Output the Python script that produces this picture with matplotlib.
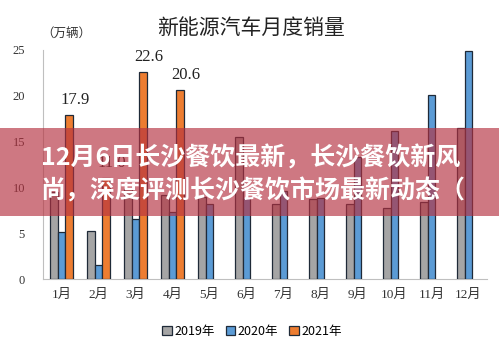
import numpy as np
import matplotlib
matplotlib.use("Agg")
import matplotlib.pyplot as plt
from matplotlib.patches import Rectangle

SERIF = ["Liberation Serif", "Noto Sans CJK SC"]
SANS = ["Noto Sans CJK SC", "DejaVu Sans"]
plt.rcParams["font.family"] = SANS

GRAY = "#a5a5a5"
BLUE = "#5b9bd5"
ORANGE = "#ed7d31"
EDGE = "#1f2a38"
AXIS = "#bfbfbf"

months = ["1月", "2月", "3月", "4月", "5月", "6月", "7月", "8月", "9月", "10月", "11月", "12月"]
sales_2019 = [9.5, 5.3, 9.8, 9.2, 9.0, 15.5, 8.2, 8.7, 8.2, 7.8, 8.4, 16.5]
sales_2020 = [5.2, 1.6, 6.6, 7.3, 8.2, 8.9, 9.6, 8.8, 13.3, 16.1, 20.1, 24.8]
sales_2021 = [17.9, 11.0, 22.6, 20.6]
series_names = ["2019年", "2020年", "2021年"]

fig = plt.figure(figsize=(4.99, 3.45), dpi=100, facecolor="white")
ax = fig.add_axes([0.0862, 0.1904, 0.8898, 0.6658])

x = np.arange(len(months))
w = 0.21
ax.bar(x - w, sales_2019, w, color=GRAY, edgecolor=EDGE, linewidth=0.9,
       label=series_names[0], zorder=3)
ax.bar(x, sales_2020, w, color=BLUE, edgecolor=EDGE, linewidth=0.9,
       label=series_names[1], zorder=3)
x21 = x[:len(sales_2021)] + w
ax.bar(x21, sales_2021, w, color=ORANGE, edgecolor=EDGE, linewidth=0.9,
       label=series_names[2], zorder=3)

# value labels for 2021 (the Feb one sits under the banner, as in the source)
for xi, v in zip(x21, sales_2021):
    ax.annotate(f"{v:.1f}", (xi, v), xytext=(4, 5), textcoords="offset points",
                ha="center", va="bottom", fontsize=12, family=SERIF, color="#222222")

ax.set_xlim(-0.5, len(months) - 0.5)
ax.set_ylim(0, 25)
ax.set_yticks([0, 5, 10, 15, 20, 25])
ax.set_xticks(x)
ax.set_xticklabels(months, family=SERIF, fontsize=9.5, color="#333333")
for lbl in ax.get_yticklabels():
    lbl.set_family(SERIF)
    lbl.set_fontsize(9)
    lbl.set_color("#333333")
ax.tick_params(axis="both", length=0)
ax.tick_params(axis="y", pad=13)
ax.tick_params(axis="x", pad=7)
for s in ["top", "right"]:
    ax.spines[s].set_visible(False)
ax.spines["left"].set_color(AXIS)
ax.spines["bottom"].set_color(AXIS)

fig.text(0.503, 0.918, "新能源汽车月度销量", ha="center", va="center",
         fontsize=15, fontweight="medium", color="#222222")
fig.text(0.082, 0.903, "（万辆）", ha="left", va="center", fontsize=9, color="#333333")

ax.legend(loc="center", bbox_to_anchor=(0.505, 0.040), bbox_transform=fig.transFigure,
          ncol=3, frameon=False, fontsize=9, handlelength=0.75, handleheight=0.75,
          handletextpad=0.2, columnspacing=0.9, borderaxespad=0)

# overlay banner
fig.patches.append(Rectangle((0, 0.374), 1, 0.255, transform=fig.transFigure,
                             facecolor="#b5303f", alpha=0.65, edgecolor="none", zorder=10))
fig.text(0.082, 0.542, "12月6日长沙餐饮最新，长沙餐饮新风", ha="left", va="center",
         fontsize=18, fontweight="bold", color="white", zorder=11)
fig.text(0.082, 0.447, "尚，深度评测长沙餐饮市场最新动态（", ha="left", va="center",
         fontsize=18, fontweight="bold", color="white", zorder=11)

fig.savefig("out.png", dpi=100, facecolor="white")
